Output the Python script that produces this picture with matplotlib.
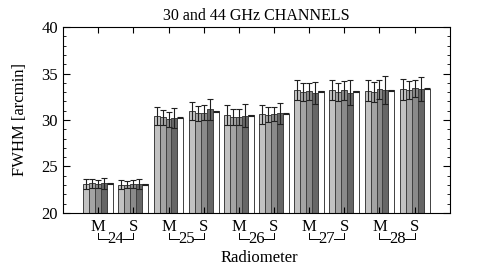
"""
FWHM per radiometer for the 30 and 44 GHz channels.
"""
import numpy as np
import matplotlib.pyplot as plt
from matplotlib.ticker import MultipleLocator

plt.rcParams['font.family'] = ['Liberation Serif', 'DejaVu Serif']

radiometers = ['24', '25', '26', '27', '28']
arms = ['M', 'S']

# 4 measured series (with errors) + reference (white bar), one value per M/S slot
fwhm_1 = [23.1, 23.05, 30.45, 31.0, 30.55, 30.6, 33.2, 33.2, 33.15, 33.3]
fwhm_2 = [23.2, 23.05, 30.3, 30.7, 30.3, 30.55, 33.0, 33.0, 33.0, 33.2]
fwhm_3 = [23.15, 23.15, 30.1, 30.8, 30.3, 30.65, 33.1, 33.2, 33.3, 33.4]
fwhm_4 = [23.2, 23.1, 30.2, 31.15, 30.45, 30.7, 32.9, 32.95, 33.2, 33.3]
fwhm_ref = [23.2, 23.1, 30.25, 30.95, 30.5, 30.65, 33.1, 33.1, 33.2, 33.35]

err_1 = [0.55, 0.5, 0.95, 0.95, 1.1, 1.0, 1.1, 1.1, 1.15, 1.1]
err_2 = [0.5, 0.4, 0.8, 0.85, 0.85, 0.8, 0.95, 1.0, 1.05, 0.95]
err_3 = [0.45, 0.45, 0.8, 0.8, 0.85, 0.8, 0.9, 1.0, 1.05, 0.9]
err_4 = [0.6, 0.55, 1.05, 1.1, 1.25, 1.1, 1.2, 1.3, 1.5, 1.3]
err_ref = [0.05] * 10

series = [fwhm_1, fwhm_2, fwhm_3, fwhm_4, fwhm_ref]
errors = [err_1, err_2, err_3, err_4, err_ref]
colors = ['#c2c2c2', '#a4a4a4', '#8a8a8a', '#666666', 'white']

fig = plt.figure(figsize=(4.9, 2.72), dpi=100)
ax = fig.add_axes([0.1286, 0.217, 0.7894, 0.6837])

x = np.arange(len(radiometers) * len(arms))
width = 0.17
for i, (vals, errs, c) in enumerate(zip(series, errors, colors)):
    pos = x + (i - 2) * width
    ax.bar(pos, np.array(vals) - 20, bottom=20, width=width, color=c,
           edgecolor='#404040', linewidth=0.7)
    ax.errorbar(pos, vals, yerr=errs, fmt='none', ecolor='#202020',
                elinewidth=0.8, capsize=2, capthick=0.8)

ax.set_xlim(-1, 10)
ax.set_ylim(20, 40)
ax.yaxis.set_major_locator(MultipleLocator(5))
ax.yaxis.set_minor_locator(MultipleLocator(1))
ax.set_xticks(x)
ax.set_xticklabels([])
ax.tick_params(axis='both', direction='in', top=True, right=True, labelsize=12)
ax.tick_params(axis='x', length=4)
ax.tick_params(axis='y', which='major', length=5)
ax.tick_params(axis='y', which='minor', length=2.5, right=True, direction='in')
ax.set_ylabel('FWHM [arcmin]', fontsize=12, labelpad=10)
ax.set_title('30 and 44 GHz CHANNELS', fontsize=11.5, pad=5)

# M/S labels and radiometer brackets under the axis
trans = ax.get_xaxis_transform()
for k, r in enumerate(radiometers):
    xm, xs = 2 * k, 2 * k + 1
    ax.text(xm, -0.03, 'M', transform=trans, ha='center', va='top', fontsize=12)
    ax.text(xs, -0.03, 'S', transform=trans, ha='center', va='top', fontsize=12)
    yb, yt = -0.14, -0.105
    ax.plot([xm, xm, xm + 0.3], [yt, yb, yb], transform=trans, color='k',
            lw=0.7, clip_on=False)
    ax.plot([xs - 0.3, xs, xs], [yb, yb, yt], transform=trans, color='k',
            lw=0.7, clip_on=False)
    ax.text((xm + xs) / 2, yb, r, transform=trans, ha='center', va='center',
            fontsize=12)

fig.text(0.5285, 0.05, 'Radiometer', ha='center', va='center', fontsize=12)

fig.savefig('out.png', dpi=100)
